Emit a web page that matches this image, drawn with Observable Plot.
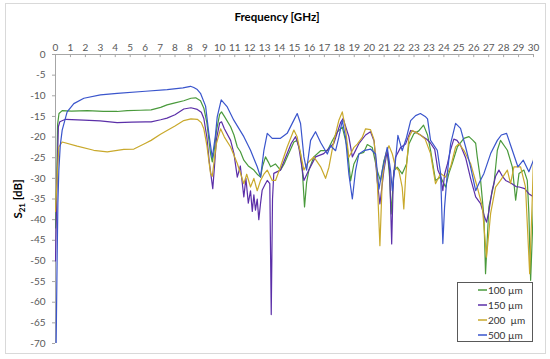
<!DOCTYPE html>
<html><head><meta charset="utf-8">
<script src="https://cdn.jsdelivr.net/npm/d3@7"></script>
<script src="https://cdn.jsdelivr.net/npm/@observablehq/plot@0.6"></script>
<style>
body{margin:0;background:#fff;font-family:Lato,"Open Sans",sans-serif;}
#wrap{position:relative;width:550px;height:359px;overflow:hidden;}
#border{position:absolute;left:5px;top:3px;width:541px;height:351px;border:1px solid #d9d9d9;box-sizing:border-box;pointer-events:none;}
#title{height:30px;box-sizing:border-box;padding-top:11px;padding-left:4px;text-align:center;font-weight:bold;font-size:11.5px;line-height:12px;color:#000;}
#legend{position:absolute;left:457px;top:282px;width:76px;height:60px;box-sizing:border-box;border:1px solid #595959;background:#fff;font-size:10px;color:#333;}
#legend .row{position:absolute;left:20px;height:14px;line-height:14px;white-space:pre;display:flex;align-items:center;}
#legend svg{margin-right:1px;}
</style></head>
<body>
<div id="wrap">
<div id="title">Frequency [GHz]</div>
<div id="chart"></div>
<div id="legend"></div>
<div id="border"></div>
</div>
<script>
const seriesNames = ["100 µm", "150 µm", "200  µm", "500 µm"];
const seriesColors = ["#4a9a3c", "#5b2fa8", "#c9a92c", "#3a55cc"];

const xTickLabels = ["0","1","2","3","4","5","6","7","8","8","9","10","11","12","13","14","15","16","17","18","19","20","21","22","23","23","24","25","26","27","28","29","30"];
const yTicks = [0,-5,-10,-15,-20,-25,-30,-35,-40,-45,-50,-55,-60,-65,-70];

const f100 = [0.0,0.08,0.13,0.22,0.42,1.0,2.0,3.0,3.87,4.5,5.34,6.0,6.6,7.0,7.5,8.05,8.5,8.8,9.1,9.31,9.5,9.73,9.84,9.95,10.1,10.3,10.42,10.6,10.99,11.2,11.41,11.6,11.82,12.1,12.45,12.66,12.87,13.0,13.18,13.35,13.5,13.8,14.12,14.35,14.54,14.75,14.96,15.17,15.38,15.49,15.63,15.76,15.9,16.21,16.64,17.06,17.37,17.68,18.0,18.31,18.52,18.73,19.04,19.35,19.57,19.88,20.19,20.4,20.61,20.82,20.97,21.07,21.24,21.45,21.76,22.03,22.18,22.49,22.8,23.1,23.35,23.54,23.85,24.17,24.48,24.69,24.9,25.22,25.63,25.95,26.2,26.37,26.47,26.68,26.89,26.99,27.2,27.52,27.73,27.93,28.36,28.67,28.88,29.09,29.4,29.61,29.71,29.82,30.0];
const s100 = [-42,-30,-17,-14.3,-13.6,-13.7,-13.6,-13.8,-13.8,-13.6,-13.5,-13.4,-12.8,-12.2,-11.7,-11.2,-10.6,-10.5,-11.2,-13.0,-16.5,-24.0,-26.0,-23.5,-18.5,-14.5,-13.9,-15.0,-17.5,-19.5,-22.4,-23.5,-25.6,-27.0,-28.0,-29.0,-29.7,-27.0,-24.8,-26.0,-27.2,-26.5,-28.0,-26.5,-24.8,-23.0,-21.2,-20.8,-24.0,-28.0,-36.9,-31.0,-28.0,-24.8,-23.3,-23.3,-20.9,-18.8,-17.6,-22.5,-30.6,-26.5,-24.1,-23.7,-21.8,-22.5,-28.1,-30.6,-25.7,-23.3,-29.8,-38.6,-28.1,-27.3,-28.9,-26.5,-21.7,-19.2,-18.5,-17.1,-19.5,-23.2,-30.5,-29.7,-32.1,-28.8,-26.4,-22.4,-20.3,-19.9,-20.8,-21.5,-24.8,-30.5,-39.4,-53.1,-36.9,-31.3,-23.2,-20.8,-23.2,-27.2,-35.3,-28.8,-28.0,-30.5,-38.5,-54.7,-36.1];

const f150 = [0.0,0.1,0.18,0.27,0.63,1.78,2.8,3.87,4.8,5.65,6.0,6.6,7.0,7.5,8.05,8.5,8.9,9.15,9.31,9.5,9.65,9.87,9.98,10.1,10.3,10.42,10.6,10.99,11.2,11.41,11.6,11.82,11.95,12.1,12.24,12.35,12.45,12.55,12.66,12.76,12.87,12.97,13.15,13.29,13.45,13.54,13.62,13.7,14.12,14.54,14.8,15.07,15.27,15.59,15.9,16.32,16.84,17.47,17.89,18.05,18.41,18.63,19.04,19.46,19.77,20.0,20.19,20.36,20.61,20.82,20.97,21.1,21.2,21.34,21.66,21.97,22.29,22.6,22.9,23.3,23.54,23.8,24.0,24.17,24.31,24.42,24.6,24.8,25.0,25.2,25.42,25.74,26.05,26.37,26.68,26.9,27.05,27.2,27.4,27.62,27.83,28.05,28.25,28.6,28.9,29.1,29.45,29.7,30.0];
const s150 = [-50,-30,-17.5,-16.3,-15.7,-15.9,-16.1,-16.5,-16.4,-16.3,-16.3,-15.8,-15.4,-14.6,-13.2,-12.9,-13.3,-14.0,-15.5,-20.0,-26.0,-32.5,-27.0,-20.5,-16.6,-16.3,-18.0,-20.8,-24.0,-29.7,-27.0,-34.5,-30.0,-36.0,-33.0,-38.0,-34.0,-37.7,-35.0,-40.0,-36.0,-32.9,-31.5,-30.5,-31.3,-63.0,-35.0,-28.8,-28.0,-24.0,-21.5,-19.9,-22.4,-30.5,-28.0,-24.8,-24.0,-21.5,-16.5,-15.5,-19.9,-24.8,-21.6,-19.5,-18.7,-21.0,-30.6,-36.2,-28.1,-23.3,-28.0,-45.9,-30.0,-24.9,-22.5,-21.7,-18.4,-18.8,-19.5,-20.5,-21.5,-23.0,-28.0,-29.5,-33.0,-29.0,-26.5,-23.0,-20.5,-20.8,-22.0,-25.0,-30.0,-34.5,-36.1,-39.0,-40.6,-38.0,-33.0,-29.5,-28.0,-29.5,-30.5,-31.2,-32.0,-32.1,-32.5,-33.7,-34.5];

const f200 = [0.0,0.1,0.21,0.42,1.36,2.4,3.25,4.29,4.92,5.65,6.0,6.59,7.0,7.5,8.05,8.5,8.9,9.15,9.31,9.5,9.73,9.84,9.98,10.1,10.36,10.6,10.99,11.41,11.82,12.0,12.24,12.45,12.66,12.87,13.08,13.29,13.6,13.81,14.12,14.54,14.96,15.17,15.38,15.59,15.8,16.21,16.64,16.95,17.16,17.47,17.78,18.0,18.2,18.41,18.52,18.73,18.94,19.25,19.46,19.77,19.98,20.09,20.19,20.36,20.51,20.72,20.93,21.14,21.34,21.55,21.76,21.86,21.97,22.18,22.39,22.6,22.9,23.2,23.54,23.85,24.17,24.48,24.8,25.11,25.32,25.63,26.05,26.47,26.79,27.05,27.31,27.62,27.93,28.36,28.56,28.77,29.19,29.5,29.76,29.92,30.0];
const s200 = [-38,-30,-22.4,-21.2,-22.2,-23.2,-23.6,-23.0,-22.9,-21.5,-20.8,-19.3,-18.4,-17.3,-16.0,-15.6,-15.7,-16.5,-18.0,-22.0,-28.8,-29.5,-25.0,-21.6,-18.0,-20.0,-22.4,-26.4,-31.3,-29.0,-32.1,-30.0,-33.0,-30.5,-29.0,-28.0,-30.5,-30.5,-27.2,-22.4,-18.3,-20.0,-24.0,-28.0,-26.4,-24.8,-27.2,-30.0,-27.3,-20.9,-16.0,-13.9,-18.0,-24.9,-24.1,-22.5,-21.7,-20.1,-18.0,-18.2,-20.5,-24.9,-30.1,-46.3,-30.1,-24.1,-22.1,-24.1,-27.3,-28.1,-32.2,-37.4,-30.0,-20.1,-18.4,-18.8,-19.5,-20.5,-24.0,-31.3,-28.8,-29.7,-27.2,-22.4,-21.6,-23.2,-26.4,-32.1,-36.9,-49.1,-38.5,-32.1,-30.5,-28.0,-31.3,-27.2,-27.2,-32.1,-53.1,-35.3,-25.2];

const f500 = [0.04,0.1,0.15,0.21,0.3,0.42,0.73,1.15,1.78,2.82,3.87,5.65,7.01,8.0,8.47,8.68,8.9,9.1,9.42,9.62,9.84,10.04,10.15,10.4,10.78,11.19,11.82,12.24,12.66,12.87,13.08,13.29,13.6,14.12,14.54,14.96,15.17,15.38,15.59,15.76,16.01,16.32,16.64,17.06,17.26,17.58,17.78,18.0,18.2,18.41,18.63,18.83,19.04,19.35,19.77,20.09,20.3,20.51,20.82,21.03,21.14,21.28,21.49,21.76,22.03,22.29,22.6,22.9,23.2,23.35,23.54,23.96,24.17,24.31,24.42,24.59,24.8,25.11,25.42,25.74,26.05,26.37,26.6,26.89,27.31,27.73,27.98,28.31,28.67,29.02,29.36,29.71,30.0];
const s500 = [-70,-50,-36,-28,-22,-18.3,-13.9,-11.9,-10.6,-9.8,-9.4,-8.9,-8.5,-8.1,-7.7,-8.0,-8.5,-9.4,-12.5,-19.0,-25.0,-19.5,-15.1,-11.0,-12.7,-15.9,-19.9,-23.2,-27.2,-29.7,-23.2,-19.1,-20.3,-20.3,-19.1,-15.9,-14.3,-16.7,-24.8,-28.0,-20.8,-18.7,-21.3,-24.1,-22.1,-23.3,-20.1,-16.0,-20.1,-28.9,-35.0,-28.1,-24.1,-23.3,-22.9,-24.1,-32.6,-28.1,-22.5,-28.1,-33.0,-28.1,-19.6,-23.3,-20.1,-16.0,-14.8,-14.3,-15.0,-15.6,-20.8,-23.2,-28.8,-45.8,-36.9,-28.8,-21.6,-16.7,-17.9,-22.4,-27.2,-33.0,-31.0,-28.8,-24.0,-20.8,-19.5,-19.1,-23.2,-27.2,-25.6,-28.4,-25.6];

const freqs = [f100, f150, f200, f500];
const vals = [s100, s150, s200, s500];
const rows = [];
seriesNames.forEach((name, k) => {
  freqs[k].forEach((f, i) => rows.push({series: name, f, db: vals[k][i]}));
});

const xTicks = d3.range(xTickLabels.length).map(i => i * 30 / (xTickLabels.length - 1));
const xLabelOf = new Map(xTicks.map((t, i) => [t, xTickLabels[i]]));
const axisColor = "#a6a6a6";
const labelColor = "#595959";

const plot = Plot.plot({
  width: 550,
  height: 329,
  marginLeft: 55,
  marginRight: 17,
  marginTop: 24,
  marginBottom: 16,
  style: {fontFamily: "Lato, 'Open Sans', sans-serif", fontSize: "10px", color: labelColor, background: "#fff"},
  x: {domain: [0, 30]},
  y: {domain: [-70, 0]},
  color: {domain: seriesNames, range: seriesColors},
  marks: [
    Plot.ruleX([0], {stroke: axisColor}),
    Plot.ruleY([0], {stroke: axisColor}),
    Plot.ruleX(xTicks, {x: d => d, y1: 0, y2: -0.75, stroke: axisColor}),
    Plot.axisX({anchor: "top", ticks: xTicks, tickSize: 0, tickPadding: 4, tickFormat: d => xLabelOf.get(d), fill: labelColor, label: null}),
    Plot.axisY({anchor: "left", ticks: yTicks, tickSize: 3, tickPadding: 7, tickFormat: d => String(d), stroke: axisColor, fill: labelColor,
      label: "S21 [dB]", labelAnchor: "center", labelArrow: "none", labelOffset: 42}),
    Plot.line(rows, {x: "f", y: "db", z: "series", stroke: "series", strokeWidth: 1.2, clip: true, curve: "linear"})
  ]
});
document.getElementById("chart").appendChild(plot);

// y-axis label with subscript
const yl = plot.querySelector('g[aria-label="y-axis label"] text');
if (yl) {
  yl.textContent = "";
  yl.setAttribute("font-weight", "bold");
  yl.setAttribute("font-size", "11.5");
  yl.setAttribute("fill", "#000");
  const ns = "http://www.w3.org/2000/svg";
  const t1 = document.createElementNS(ns, "tspan"); t1.textContent = "S";
  const t2 = document.createElementNS(ns, "tspan"); t2.textContent = "21"; t2.setAttribute("dy", "3"); t2.setAttribute("font-size", "8");
  const t3 = document.createElementNS(ns, "tspan"); t3.textContent = " [dB]"; t3.setAttribute("dy", "-3");
  yl.append(t1, t2, t3);
}

const legend = document.getElementById("legend");
const rowTops = [0, 15, 30, 45];
const ns = "http://www.w3.org/2000/svg";
seriesNames.forEach((name, k) => {
  const r = document.createElement("div");
  r.className = "row";
  r.style.top = rowTops[k] + "px";
  const sw = document.createElementNS(ns, "svg");
  sw.setAttribute("width", "9");
  sw.setAttribute("height", "4");
  const ln = document.createElementNS(ns, "line");
  ln.setAttribute("x1", "0"); ln.setAttribute("x2", "9");
  ln.setAttribute("y1", "2"); ln.setAttribute("y2", "2");
  ln.setAttribute("stroke", seriesColors[k]);
  ln.setAttribute("stroke-width", "1.5");
  sw.appendChild(ln);
  r.appendChild(sw);
  const tx = document.createElement("span");
  tx.textContent = name;
  r.appendChild(tx);
  legend.appendChild(r);
});
</script>
</body></html>
